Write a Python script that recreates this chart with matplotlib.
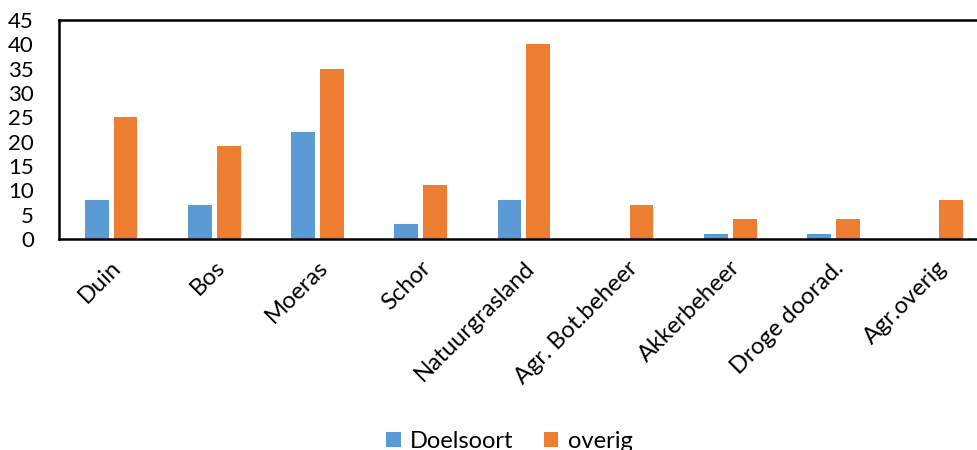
import numpy as np
import matplotlib.pyplot as plt

plt.rcParams['font.family'] = ['Lato', 'DejaVu Sans']

categories = ['Duin', 'Bos', 'Moeras', 'Schor', 'Natuurgrasland',
              'Agr. Bot.beheer', 'Akkerbeheer', 'Droge doorad.', 'Agr.overig']
doelsoort = [8, 7, 22, 3, 8, 0, 1, 1, 0]
overig = [25, 19, 35, 11, 40, 7, 4, 4, 8]

fig = plt.figure(figsize=(9.78, 4.5), dpi=100)
ax = fig.add_axes([0.0603, 0.469, 1.010 - 0.0603, 0.9556 - 0.469])

x = np.arange(len(categories))
w = 0.23
b1 = ax.bar(x - 0.135, doelsoort, w, color='#5B9BD5', label='Doelsoort')
b2 = ax.bar(x + 0.145, overig, w, color='#ED7D31', label='overig')

ax.set_xlim(-0.5, len(categories) - 0.5)
ax.set_ylim(0, 45)
ax.set_yticks(range(0, 46, 5))
ax.set_xticks(x)
ax.set_xticklabels(categories, rotation=45, ha='right', rotation_mode='anchor')
ax.tick_params(axis='both', length=0, labelsize=17)
ax.tick_params(axis='y', labelsize=16, pad=18)
ax.tick_params(axis='x', pad=13)
for s in ax.spines.values():
    s.set_linewidth(1.8)
    s.set_color('black')

fig.legend(handles=[b1, b2], loc='center', bbox_to_anchor=(0.521, 0.02),
           ncol=2, frameon=False, fontsize=17, handlelength=0.6,
           handleheight=0.6, columnspacing=1.3, handletextpad=0.4)

fig.savefig('out.png', dpi=100)
